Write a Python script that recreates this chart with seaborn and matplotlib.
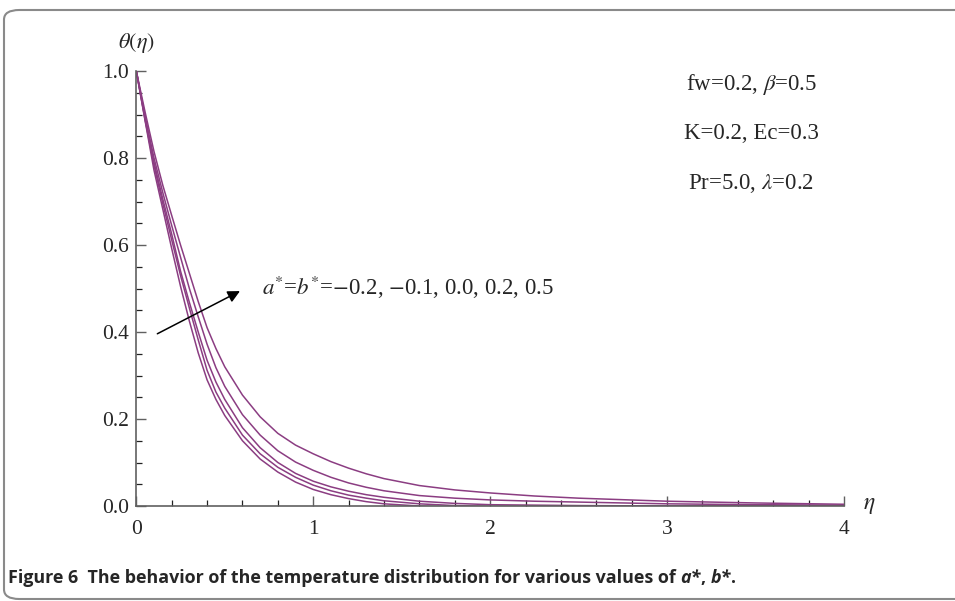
import numpy as np
import pandas as pd
import matplotlib
matplotlib.use("Agg")
import matplotlib.pyplot as plt
import seaborn as sns
from matplotlib.patches import FancyBboxPatch
from matplotlib.ticker import MultipleLocator, FormatStrFormatter

# eta grid and temperature profiles
eta = [0, 0.05, 0.1, 0.15, 0.2, 0.25, 0.3, 0.35, 0.4, 0.45, 0.5, 0.6, 0.7, 0.8, 0.9, 1.0,
       1.1, 1.2, 1.3, 1.4, 1.6, 1.8, 2.0, 2.25, 2.5, 3.0, 3.5, 4.0]

theta_m02 = [1, 0.885, 0.772, 0.682, 0.592, 0.505, 0.425, 0.352, 0.290, 0.245, 0.208, 0.150, 0.108, 0.078,
             0.055, 0.038, 0.026, 0.017, 0.010, 0.005, 0.0, -0.003, -0.003, -0.003, -0.002, -0.001, 0.0, 0.0]
theta_m01 = [1, 0.887, 0.783, 0.695, 0.612, 0.530, 0.455, 0.382, 0.312, 0.262, 0.225, 0.163, 0.120, 0.089,
             0.066, 0.048, 0.035, 0.025, 0.018, 0.012, 0.005, 0.001, -0.001, -0.001, -0.001, 0.0, 0.0, 0.0]
theta_00 = [1, 0.89, 0.79, 0.705, 0.625, 0.540, 0.468, 0.400, 0.335, 0.285, 0.245, 0.180, 0.134, 0.100,
            0.075, 0.057, 0.044, 0.034, 0.026, 0.020, 0.011, 0.006, 0.003, 0.002, 0.001, 0.0, 0.0, 0.0]
theta_02 = [1, 0.895, 0.800, 0.720, 0.645, 0.572, 0.500, 0.435, 0.372, 0.318, 0.275, 0.210, 0.163, 0.127,
            0.101, 0.082, 0.066, 0.053, 0.043, 0.035, 0.024, 0.018, 0.014, 0.011, 0.009, 0.005, 0.003, 0.002]
theta_05 = [1, 0.905, 0.815, 0.737, 0.668, 0.600, 0.535, 0.470, 0.410, 0.362, 0.320, 0.255, 0.205, 0.167,
            0.140, 0.120, 0.102, 0.087, 0.074, 0.063, 0.047, 0.037, 0.030, 0.023, 0.018, 0.011, 0.007, 0.004]

ab_values = ["-0.2", "-0.1", "0.0", "0.2", "0.5"]
profiles = [theta_m02, theta_m01, theta_00, theta_02, theta_05]

df = pd.concat([pd.DataFrame({"eta": eta, "theta": p, "ab": v})
                for v, p in zip(ab_values, profiles)])

sns.set_style("ticks")
plt.rcParams["font.family"] = ["Liberation Serif", "DejaVu Serif"]
plt.rcParams["mathtext.fontset"] = "stix"

line_color = "#8B3D82"
axis_color = "#606060"

fig = plt.figure(figsize=(9.55, 6.01), dpi=100)
ax = fig.add_axes([136.3 / 955, 1 - 506 / 601, (844 - 136.3) / 955, (506 - 71) / 601])

sns.lineplot(data=df, x="eta", y="theta", hue="ab", palette=[line_color] * 5,
             legend=False, sort=False, estimator=None, linewidth=1.1, ax=ax)

ax.set_xlim(0, 4)
ax.set_ylim(0, 1.0)
ax.xaxis.set_major_locator(MultipleLocator(1))
ax.xaxis.set_minor_locator(MultipleLocator(0.2))
ax.yaxis.set_major_locator(MultipleLocator(0.2))
ax.yaxis.set_minor_locator(MultipleLocator(0.05))
ax.xaxis.set_major_formatter(FormatStrFormatter("%d"))
ax.yaxis.set_major_formatter(FormatStrFormatter("%.1f"))
ax.tick_params(which="major", direction="in", length=7, width=1.0, color=axis_color,
               labelsize=15.5)
ax.tick_params(axis="y", which="major", pad=5)
ax.tick_params(axis="x", which="major", pad=10)
ax.tick_params(which="minor", direction="in", length=4.5, width=0.9, color="#222222")
for s in ["top", "right"]:
    ax.spines[s].set_visible(False)
for s in ["left", "bottom"]:
    ax.spines[s].set_color(axis_color)
    ax.spines[s].set_linewidth(1.2)
ax.set_xlabel("")
ax.set_ylabel("")

# axis labels placed like the original (at the axis ends)
ax.text(0.0, 1.065, r"$\theta(\eta)$", transform=ax.transAxes, ha="center", va="center", fontsize=16)
ax.text(1.036, 0.0, r"$\eta$", transform=ax.transAxes, ha="center", va="center", fontsize=17)

# parameter text
params = ["fw=0.2, $\\beta$=0.5", "K=0.2, Ec=0.3", "Pr=5.0, $\\lambda$=0.2"]
for i, t in enumerate(params):
    ax.text(0.869, 0.97 - i * 0.114, t, transform=ax.transAxes, ha="center", va="center", fontsize=16.5)

ax.text(0.177, 0.502, r"$a^{*}$=$b^{*}$=$-$0.2, $-$0.1, 0.0, 0.2, 0.5",
        transform=ax.transAxes, ha="left", va="center", fontsize=16.5)
ax.annotate("", xy=(0.60, 0.497), xytext=(0.105, 0.393),
            arrowprops=dict(arrowstyle="-|>", color="black", lw=1.1, mutation_scale=18))

# caption
cap_font = ["Open Sans", "DejaVu Sans"]
cap_size = 12.9
t1 = fig.text(8 / 955, 1 - 578 / 601,
              "Figure 6  The behavior of the temperature distribution for various values of ",
              fontsize=cap_size, fontweight="bold", family=cap_font, va="center", ha="left")
a1 = ax.annotate("a*", xy=(1, 0.5), xycoords=t1, va="center", ha="left",
                 fontsize=cap_size, fontweight="bold", style="italic", family=cap_font, annotation_clip=False)
a2 = ax.annotate(", ", xy=(1, 0.5), xycoords=a1, va="center", ha="left",
                 fontsize=cap_size, fontweight="bold", family=cap_font, annotation_clip=False)
a3 = ax.annotate("b*", xy=(1, 0.5), xycoords=a2, va="center", ha="left",
                 fontsize=cap_size, fontweight="bold", style="italic", family=cap_font, annotation_clip=False)
ax.annotate(".", xy=(1, 0.5), xycoords=a3, va="center", ha="left",
            fontsize=cap_size, fontweight="bold", family=cap_font, annotation_clip=False)

# rounded frame around the figure panel
frame = FancyBboxPatch((4 / 955, 2 / 601), 1.2, (601 - 10 - 2) / 601,
                       boxstyle="round,pad=0,rounding_size=0.016", transform=fig.transFigure,
                       fill=False, edgecolor="#8a8a8a", linewidth=1.5)
fig.patches.append(frame)

fig.savefig("out.png", dpi=100)
